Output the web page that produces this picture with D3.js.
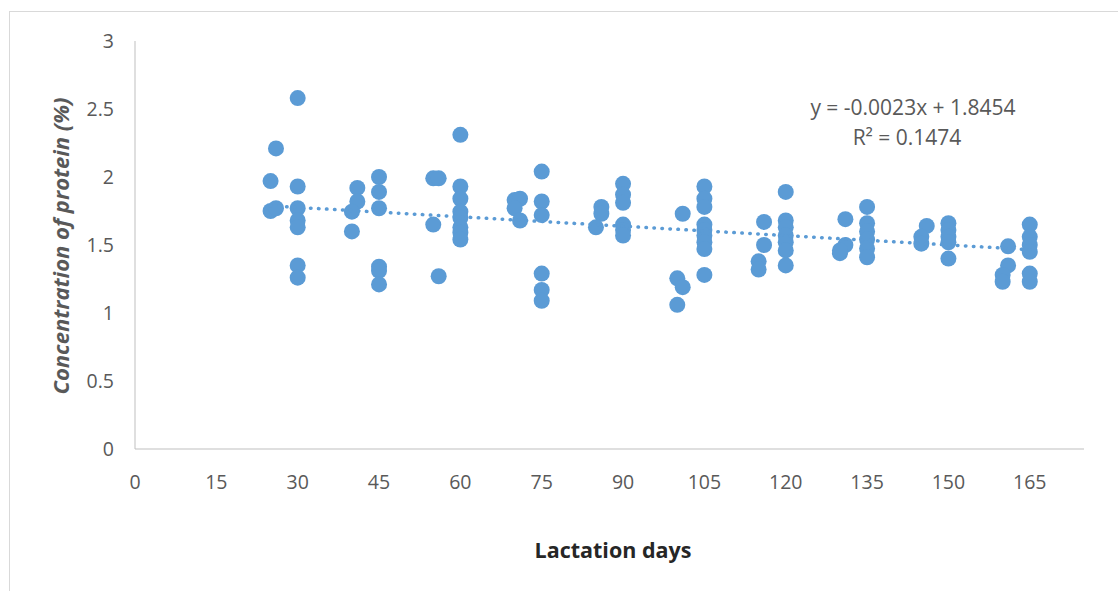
<!DOCTYPE html>
<html lang="en">
<head>
<meta charset="utf-8">
<title>Protein vs lactation days</title>
<script src="https://cdn.jsdelivr.net/npm/d3@7"></script>
<style>
  body { margin: 0; background: #fff; }
  text { font-family: "Open Sans", "Liberation Sans", sans-serif; }
</style>
</head>
<body>
<script>
// lactation day of each sample
var days = [
  30, 26, 25, 30, 25, 26, 30, 30, 30, 30, 30,
  41, 41, 40, 40,
  45, 45, 45, 45, 45, 45,
  55, 56, 55, 56,
  60, 60, 60, 60, 60, 60, 60, 60,
  70, 71, 70, 71,
  75, 75, 75, 75, 75, 75,
  86, 86, 85,
  90, 90, 90, 90, 90, 90,
  101, 100, 101, 100,
  105, 105, 105, 105, 105, 105, 105, 105, 105,
  116, 116, 115, 115,
  120, 120, 120, 120, 120, 120, 120,
  131, 131, 130, 130,
  135, 135, 135, 135, 135, 135,
  146, 145, 145,
  150, 150, 150, 150, 150,
  161, 161, 160, 160,
  165, 165, 165, 165, 165, 165
];
// protein concentration (%)
var protein = [
  2.58, 2.21, 1.97, 1.93, 1.75, 1.77, 1.77, 1.68, 1.63, 1.35, 1.26,
  1.92, 1.82, 1.745, 1.60,
  2.00, 1.89, 1.77, 1.34, 1.31, 1.21,
  1.99, 1.99, 1.65, 1.27,
  2.31, 1.93, 1.84, 1.745, 1.70, 1.63, 1.59, 1.54,
  1.83, 1.84, 1.77, 1.68,
  2.04, 1.82, 1.72, 1.29, 1.17, 1.09,
  1.78, 1.73, 1.63,
  1.95, 1.87, 1.81, 1.65, 1.61, 1.57,
  1.73, 1.255, 1.19, 1.06,
  1.93, 1.84, 1.78, 1.65, 1.61, 1.57, 1.52, 1.47, 1.28,
  1.67, 1.50, 1.38, 1.32,
  1.89, 1.68, 1.63, 1.57, 1.52, 1.46, 1.35,
  1.69, 1.50, 1.44, 1.46,
  1.78, 1.66, 1.60, 1.54, 1.475, 1.41,
  1.64, 1.56, 1.51,
  1.66, 1.61, 1.56, 1.52, 1.40,
  1.49, 1.35, 1.28, 1.23,
  1.65, 1.56, 1.50, 1.45, 1.29, 1.23
];
var xTicks = [0, 15, 30, 45, 60, 75, 90, 105, 120, 135, 150, 165];
var yTicks = [0, 0.5, 1, 1.5, 2, 2.5, 3];
var slope = -0.0023, intercept = 1.8454;
var eqLabel = "y = -0.0023x + 1.8454";
var r2Label = "R² = 0.1474";

var W = 1118, H = 591;
var svg = d3.select("body").append("svg")
  .attr("width", W).attr("height", H);

// chart frame
svg.append("rect")
  .attr("x", 9.5).attr("y", 11.5)
  .attr("width", W - 9).attr("height", H - 11)
  .attr("fill", "#fff").attr("stroke", "#d9d9d9");

var x = d3.scaleLinear().domain([0, 175]).range([135, 1084]);
var y = d3.scaleLinear().domain([0, 3]).range([449, 41]);

// axis lines
svg.append("line")
  .attr("x1", x(0)).attr("x2", x(0))
  .attr("y1", y(3)).attr("y2", y(0))
  .attr("stroke", "#bfbfbf");
svg.append("line")
  .attr("x1", x(0)).attr("x2", x(175))
  .attr("y1", y(0)).attr("y2", y(0))
  .attr("stroke", "#bfbfbf");

// tick labels
svg.selectAll(".ytick").data(yTicks).enter().append("text")
  .attr("class", "ytick")
  .attr("x", 114).attr("y", function(d) { return y(d) + 7; })
  .attr("text-anchor", "end")
  .attr("font-size", 19.5).attr("fill", "#595959")
  .text(function(d) { return d; });

svg.selectAll(".xtick").data(xTicks).enter().append("text")
  .attr("class", "xtick")
  .attr("x", function(d) { return x(d); }).attr("y", 489)
  .attr("text-anchor", "middle")
  .attr("font-size", 19.5).attr("fill", "#595959")
  .text(function(d) { return d; });

// axis titles
svg.append("text")
  .attr("transform", "translate(69,246) rotate(-90)")
  .attr("text-anchor", "middle")
  .attr("font-size", 22).attr("font-weight", "bold").attr("font-style", "italic")
  .attr("fill", "#595959")
  .text("Concentration of protein (%)");

svg.append("text")
  .attr("x", 613).attr("y", 558)
  .attr("text-anchor", "middle")
  .attr("font-size", 21.5).attr("font-weight", "bold")
  .attr("fill", "#262626")
  .text("Lactation days");

// points
var pts = days.map(function(d, i) { return [d, protein[i]]; });
svg.append("g").selectAll("circle").data(pts).enter().append("circle")
  .attr("cx", function(d) { return x(d[0]); })
  .attr("cy", function(d) { return y(d[1]); })
  .attr("r", 8)
  .attr("fill", "#5b9bd5");

// linear trendline
var x0 = d3.min(days), x1 = d3.max(days);
svg.append("line")
  .attr("x1", x(x0)).attr("y1", y(intercept + slope * x0))
  .attr("x2", x(x1)).attr("y2", y(intercept + slope * x1))
  .attr("stroke", "#5b9bd5")
  .attr("stroke-width", 3.5)
  .attr("stroke-linecap", "round")
  .attr("stroke-dasharray", "0.5,7.5");

// equation
svg.append("text")
  .attr("x", 913).attr("y", 115)
  .attr("text-anchor", "middle")
  .attr("font-size", 21).attr("fill", "#595959")
  .text(eqLabel);
svg.append("text")
  .attr("x", 907).attr("y", 145)
  .attr("text-anchor", "middle")
  .attr("font-size", 21).attr("fill", "#595959")
  .text(r2Label);
</script>
</body>
</html>
